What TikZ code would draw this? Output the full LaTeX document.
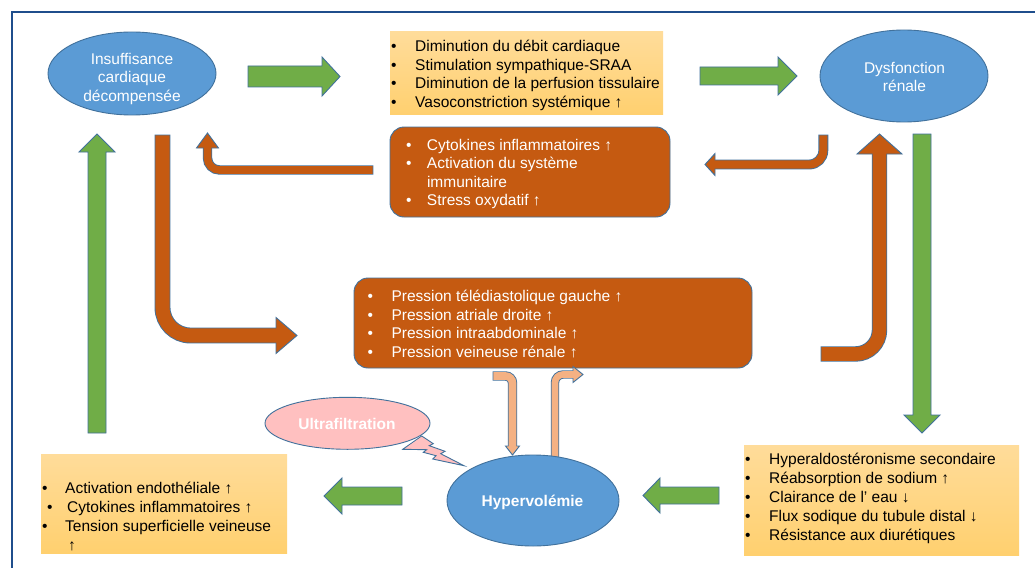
\documentclass[tikz,border=0pt]{standalone}
\usepackage{fontspec}
\setmainfont{Liberation Sans}
\usetikzlibrary{shapes.geometric}
\definecolor{cblue}{HTML}{5B9BD5}
\definecolor{cedge}{HTML}{41719C}
\definecolor{cgreen}{HTML}{70AD47}
\definecolor{corange}{HTML}{C55A11}
\definecolor{cpeach}{HTML}{F4B183}
\definecolor{cpink}{HTML}{FFC0C0}
\definecolor{clt}{HTML}{FFDC9A}
\definecolor{cdk}{HTML}{FFD06F}
\definecolor{cframe}{HTML}{1F4E8C}
\newcommand\fs{\fontsize{15.5}{18.7}\selectfont}
\newcommand\bul[1]{\makebox[#1pt][l]{•}}
\begin{document}
\begin{tikzpicture}[x=1pt,y=-1pt,
  ell/.style={ellipse, draw=cedge, line width=0.9pt, fill=cblue, inner sep=0pt},
  lbox/.style={rectangle, inner sep=0pt, top color=clt, bottom color=cdk, draw=none},
  obox/.style={rectangle, rounded corners=14pt, fill=corange, draw=cedge, line width=0.9pt, inner sep=0pt},
  garrow/.style={fill=cgreen, draw=cedge, line width=0.9pt, line join=miter},
  ahead/.style={draw=cedge, line width=0.9pt, line join=miter},
  txt/.style={anchor=base west, inner sep=0pt, font=\fs},
  wtxt/.style={txt, text=white},
  ctxt/.style={anchor=base, inner sep=0pt, font=\fs, text=white},
  btxt/.style={ctxt, font=\fs\bfseries}]
\useasboundingbox (0,0) rectangle (1035,567);
\fill[white] (0,0) rectangle (1035,567);
% frame
\draw[cframe, line width=2.2pt] (12.3,568) -- (12.3,12.3) -- (1036,12.3);

% boxes
\node[lbox, minimum width=273pt, minimum height=83pt] (topbox) at (526.5,73.5) {};
\node[obox, minimum width=280pt, minimum height=90pt] (cytobox) at (530,172) {};
\node[obox, minimum width=398pt, minimum height=90pt] (presbox) at (553,323) {};
\node[lbox, minimum width=275pt, minimum height=110pt] (renbox) at (881.5,500) {};
\node[lbox, minimum width=246pt, minimum height=99pt] (endobox) at (164,503.5) {};

% green straight arrows
\filldraw[garrow] (248,66) -- (322,66) -- (322,57) -- (340,76.5) -- (322,96) -- (322,87) -- (248,87) -- cycle;
\filldraw[garrow] (700,67) -- (778,67) -- (778,57) -- (797,76) -- (778,95) -- (778,85) -- (700,85) -- cycle;
\filldraw[garrow] (88,433) -- (88,152) -- (79,152) -- (97,134) -- (115,152) -- (106,152) -- (106,433) -- cycle;
\filldraw[garrow] (913,134) -- (913,415) -- (904,415) -- (922,433) -- (940,415) -- (931,415) -- (931,134) -- cycle;
\filldraw[garrow] (719,487) -- (660,487) -- (660,478) -- (643,495.5) -- (660,513) -- (660,504) -- (719,504) -- cycle;
\filldraw[garrow] (402,487) -- (342,487) -- (342,478) -- (324,496) -- (342,514) -- (342,505) -- (402,505) -- cycle;

% bent orange arrow A (renal -> left)
\draw[cedge, line width=9.9pt, rounded corners=14pt] (823.3,134.55) -- (823.3,164.5) -- (715,164.5);
\filldraw[ahead, fill=corange] (715,153.5) -- (705,164.5) -- (715,175.5) -- cycle;
\draw[corange, line width=8.1pt, rounded corners=14pt] (823.3,135.45) -- (823.3,164.5) -- (714.2,164.5);
% bent orange arrow B (cyto -> up)
\draw[cedge, line width=9.4pt, rounded corners=12pt] (373.45,170) -- (207.5,170) -- (207.5,148);
\filldraw[ahead, fill=corange] (196.5,148) -- (207.5,133) -- (218.5,148) -- cycle;
\draw[corange, line width=7.6pt, rounded corners=12pt] (372.55,170) -- (207.5,170) -- (207.5,147.2);
% bent orange arrow C (heart -> pressure)
\draw[cedge, line width=15.9pt, rounded corners=28pt] (162.5,134.55) -- (162.5,335.5) -- (276,335.5);
\filldraw[ahead, fill=corange] (276,317.5) -- (297,335.5) -- (276,353.5) -- cycle;
\draw[corange, line width=14.1pt, rounded corners=28pt] (162.5,135.45) -- (162.5,335.5) -- (276.8,335.5);
% bent orange arrow D (pressure -> renal)
\draw[cedge, line width=15.4pt, rounded corners=24pt] (820.55,354) -- (879.5,354) -- (879.5,154);
\filldraw[ahead, fill=corange] (857,154) -- (879.5,134) -- (902,154) -- cycle;
\draw[corange, line width=13.6pt, rounded corners=24pt] (821.45,354) -- (879.5,354) -- (879.5,153.2);
% peach arrow E (down)
\draw[cedge, line width=9.4pt, rounded corners=7pt] (492.55,376) -- (512.5,376) -- (512.5,446);
\filldraw[ahead, fill=cpeach] (505.5,446) -- (512.5,455) -- (519.5,446) -- cycle;
\draw[cpeach, line width=7.6pt, rounded corners=7pt] (493.45,376) -- (512.5,376) -- (512.5,446.8);
% peach arrow F (up)
\draw[cedge, line width=8.4pt, rounded corners=8pt] (555,460) -- (555,374.5) -- (573,374.5);
\filldraw[ahead, fill=cpeach] (573,366.5) -- (583,374.5) -- (573,382.5) -- cycle;
\draw[cpeach, line width=6.6pt, rounded corners=8pt] (555,460) -- (555,374.5) -- (573.8,374.5);

% lightning
\filldraw[ahead, fill=cpink] (402.7,449.3) -- (421.7,436) -- (433.3,443.7) -- (429.3,445.7) -- (445,451.3) -- (440.7,453.7) -- (464,465.7) -- (432.7,459) -- (436,455.7) -- (423.3,452.3) -- (426.7,449.7) -- cycle;

% ellipses
\node[ell, minimum width=168pt, minimum height=83pt] (ic) at (132,73.5) {};
\node[ell, minimum width=168pt, minimum height=92pt] (dr) at (904,76) {};
\node[ell, minimum width=172pt, minimum height=91pt] (hv) at (533,500.5) {};
\node[ell, fill=cpink, minimum width=165pt, minimum height=52pt] (uf) at (347.5,423.3) {};
\fill[cpink] (408,446.5) -- (421.2,437.3) -- (424,439) -- (411,447.2) -- cycle;

% ellipse texts
\node[ctxt] (ic1) at (132,64.5) {Insuffisance};
\node[ctxt] (ic2) at (132,83) {cardiaque};
\node[ctxt] (ic3) at (132,101.5) {décompensée};
\node[ctxt] (dr1) at (904.5,73.5) {Dysfonction};
\node[ctxt] (dr2) at (904.5,92) {rénale};
\node[btxt] (hv1) at (532.5,506.5) {Hypervolémie};
\node[btxt] (uf1) at (347,429) {Ultrafiltration};

% top box text
\node[txt] (t1) at (391,51.5) {\bul{24}Diminution du débit cardiaque};
\node[txt] (t2) at (391,70.2) {\bul{24}Stimulation sympathique-SRAA};
\node[txt] (t3) at (391,88.9) {\bul{24}Diminution de la perfusion tissulaire};
\node[txt] (t4) at (391,107.6) {\bul{24}Vasoconstriction systémique ↑};

% cytokines text
\node[wtxt] (c1) at (405.8,150.5) {\bul{21}Cytokines inflammatoires ↑};
\node[wtxt] (c2) at (405.8,168.8) {\bul{21}Activation du système};
\node[wtxt] (c3) at (426.8,187) {immunitaire};
\node[wtxt] (c4) at (405.8,205.5) {\bul{21}Stress oxydatif ↑};

% pressure text
\node[wtxt] (p1) at (367.3,301.5) {\bul{24}Pression télédiastolique gauche ↑};
\node[wtxt] (p2) at (367.3,320.1) {\bul{24}Pression atriale droite ↑};
\node[wtxt] (p3) at (367.3,338.7) {\bul{24}Pression intraabdominale ↑};
\node[wtxt] (p4) at (367.3,357.3) {\bul{24}Pression veineuse rénale ↑};

% renal box text
\node[txt] (r1) at (745,464.5) {\bul{24}Hyperaldostéronisme secondaire};
\node[txt] (r2) at (745,483.5) {\bul{24}Réabsorption de sodium ↑};
\node[txt] (r3) at (745,502.5) {\bul{24}Clairance de l’ eau ↓};
\node[txt] (r4) at (745,521.5) {\bul{24}Flux sodique du tubule distal ↓};
\node[txt] (r5) at (745,540.5) {\bul{24}Résistance aux diurétiques};

% endothelial box text
\node[txt] (l1) at (42,493) {\bul{23}Activation endothéliale ↑};
\node[txt] (l2) at (47,512) {\bul{20}Cytokines inflammatoires ↑};
\node[txt] (l3) at (42,531.5) {\bul{23}Tension superficielle veineuse};
\node[txt] (l4) at (68,550) {↑};
\end{tikzpicture}
\end{document}
